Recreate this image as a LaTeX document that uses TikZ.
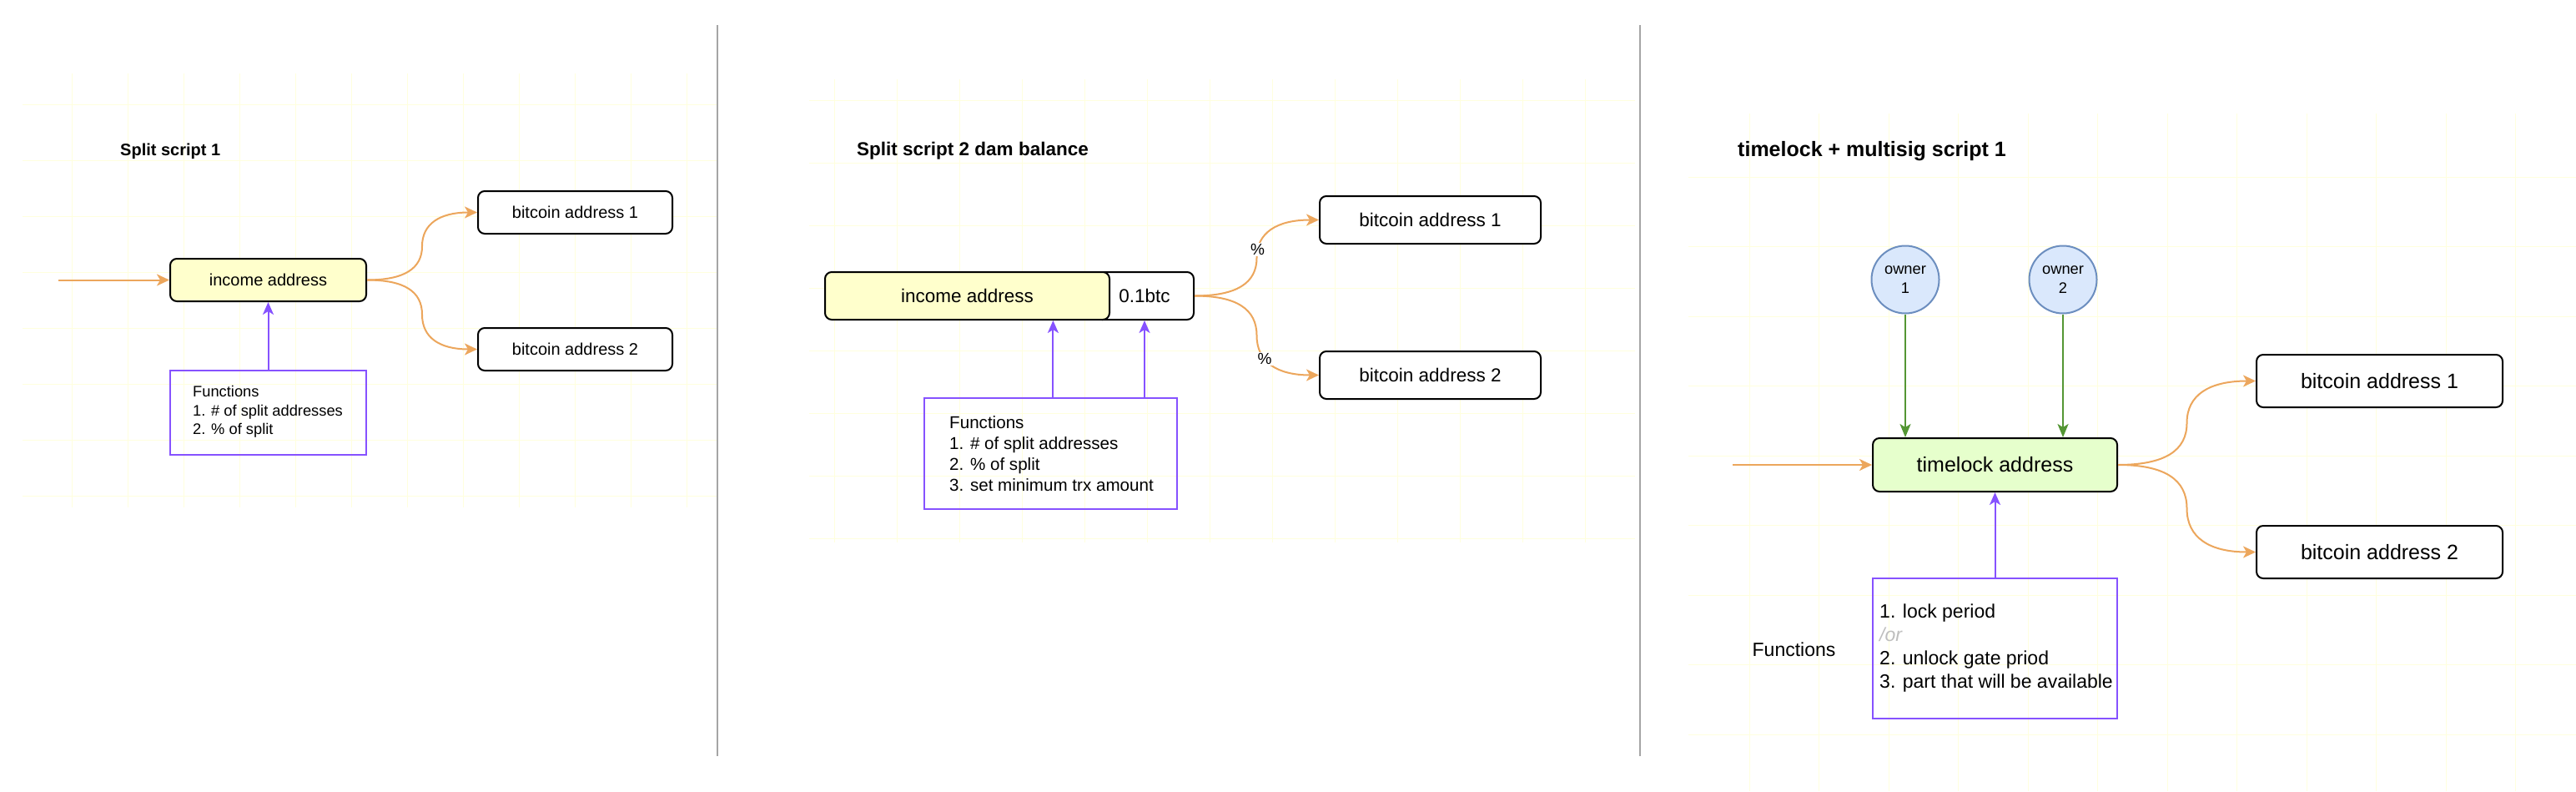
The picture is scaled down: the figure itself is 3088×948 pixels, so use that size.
\documentclass[tikz,border=0pt]{standalone}
\usepackage{fontspec}
\setmainfont{Liberation Sans}
\usetikzlibrary{arrows.meta,calc}
\definecolor{orng}{RGB}{236,166,92}
\definecolor{purp}{RGB}{134,82,255}
\definecolor{grn}{RGB}{84,150,52}
\definecolor{yel}{HTML}{FFFFCC}
\definecolor{lgrn}{HTML}{E6FFCC}
\definecolor{blfill}{HTML}{DAE8FC}
\definecolor{bldraw}{HTML}{6C8EBF}
\definecolor{gridc}{RGB}{255,255,222}
\definecolor{divc}{RGB}{165,165,165}
\definecolor{orc}{RGB}{190,190,190}
\newcommand{\fsz}[2]{\fontsize{#1}{#2}\selectfont}
\tikzset{
  abox/.style={draw=black, line width=2pt, rounded corners=8pt, inner sep=0pt, align=center},
  fbox/.style={draw=purp, line width=2pt, inner sep=0pt},
  oarr/.style={draw=orng, line width=2pt, -{Stealth[length=15pt,width=14pt,inset=4pt]}},
  parr/.style={draw=purp, line width=2pt, -{Stealth[length=15pt,width=13pt,inset=4pt]}},
  garr/.style={draw=grn, line width=2pt, -{Stealth[length=16pt,width=13pt,inset=4pt]}},
  ttl/.style={anchor=west, inner sep=0pt},
  ftxt/.style={anchor=west, inner sep=0pt, align=left},
  owner/.style={circle, draw=bldraw, fill=blfill, line width=2pt, minimum size=81pt, inner sep=0pt, align=center, font=\fsz{18.3}{23}},
  pct/.style={fill=white, inner sep=1.5pt, font=\fsz{19}{22}},
  gridline/.style={draw=gridc, line width=1pt},
  divline/.style={draw=divc, line width=2pt}
}
\begin{document}
\begin{tikzpicture}[x=1pt,y=-1pt]
\fill[white] (0,0) rectangle (3088,948);
\useasboundingbox (0,0) rectangle (3088,948);

% faint background grids
\foreach \i in {0,...,11} \draw[gridline] ({86.7+67*\i},88) -- ({86.7+67*\i},608);
\foreach \j in {0,...,7} \draw[gridline] (27,{125.8+67*\j}) -- (860,{125.8+67*\j});
\foreach \i in {0,...,12} \draw[gridline] ({1000+75*\i},95) -- ({1000+75*\i},650);
\foreach \j in {0,...,7} \draw[gridline] (970,{120+75*\j}) -- (1960,{120+75*\j});
\foreach \i in {0,...,11} \draw[gridline] ({2097+83.5*\i},136) -- ({2097+83.5*\i},948);
\foreach \j in {0,...,8} \draw[gridline] (2024,{212+83.5*\j}) -- (3088,{212+83.5*\j});

% dividers
\draw[divline] (860,30) -- (860,906);
\draw[divline] (1966,30) -- (1966,906);

% ---------- Panel 1 ----------
\node[ttl, font=\fsz{20}{24}\bfseries] (t1) at (144,181) {Split script 1};
\node[abox, fill=yel, minimum width=235pt, minimum height=51pt, font=\fsz{20}{24}] (inc1) at (321.5,335.5) {income address};
\node[abox, fill=white, minimum width=233pt, minimum height=51pt, font=\fsz{20}{24}] (b11) at (689.5,254.5) {bitcoin address 1};
\node[abox, fill=white, minimum width=233pt, minimum height=51pt, font=\fsz{20}{24}] (b12) at (689.5,418.5) {bitcoin address 2};
\node[fbox, minimum width=235pt, minimum height=101pt] (fn1) at (321.5,494.5) {};
\node[ftxt, font=\fsz{18.3}{22.4}] (fn1t) at (231,493.5) {Functions\\1. \# of split addresses\\2. \% of split};
\coordinate (in1) at (70,335.5);
\draw[oarr] (in1) -- (inc1.west);
\coordinate (m11) at ($(inc1.east)!0.5!(b11.west)$);
\coordinate (m12) at ($(inc1.east)!0.5!(b12.west)$);
\draw[oarr] (inc1.east) .. controls +(44.7,0) and +(0,26.8) .. (m11) .. controls +(0,-26.8) and +(-44.7,0) .. (b11.west);
\draw[oarr] (inc1.east) .. controls +(44.7,0) and +(0,-27.8) .. (m12) .. controls +(0,27.8) and +(-44.7,0) .. (b12.west);
\draw[parr] (fn1.north) -- (inc1.south);

% ---------- Panel 2 ----------
\node[ttl, font=\fsz{22.5}{27}\bfseries] (t2) at (1027,181) {Split script 2 dam balance};
\node[abox, fill=white, minimum width=118pt, minimum height=57pt, font=\fsz{22.5}{27}] (btc2) at (1372,354.5) {0.1btc};
\node[abox, fill=yel, minimum width=341pt, minimum height=57pt, font=\fsz{22.5}{27}] (inc2) at (1159.5,354.5) {income address};
\node[abox, fill=white, minimum width=265pt, minimum height=57pt, font=\fsz{22.5}{27}] (b21) at (1714.5,263.5) {bitcoin address 1};
\node[abox, fill=white, minimum width=265pt, minimum height=57pt, font=\fsz{22.5}{27}] (b22) at (1714.5,449.5) {bitcoin address 2};
\node[fbox, minimum width=303pt, minimum height=133pt] (fn2) at (1259.5,543.5) {};
\node[ftxt, font=\fsz{20.6}{25}] (fn2t) at (1138,543.5) {Functions\\1. \# of split addresses\\2. \% of split\\3. set minimum trx amount};
\coordinate (p2a) at ($(inc2.south west)!0.8!(inc2.south east)$);
\draw[parr] (fn2.north -| p2a) -- (p2a);
\draw[parr] (fn2.north -| btc2.south) -- (btc2.south);
\coordinate (m21) at ($(btc2.east)!0.5!(b21.west)$);
\coordinate (m22) at ($(btc2.east)!0.5!(b22.west)$);
\draw[oarr] (btc2.east) .. controls +(50.3,0) and +(0,30.3) .. (m21) .. controls +(0,-30.3) and +(-50.3,0) .. (b21.west) node[pct, pos=0.12] (pc1) {\%};
\draw[oarr] (btc2.east) .. controls +(50.3,0) and +(0,-31.7) .. (m22) .. controls +(0,31.7) and +(-50.3,0) .. (b22.west) node[pct, pos=0.36] (pc2) {\%};

% ---------- Panel 3 ----------
\node[ttl, font=\fsz{25}{30}\bfseries] (t3) at (2083,181) {timelock + multisig script 1};
\node[owner] (own1) at (2284,335) {owner\\1};
\node[owner] (own2) at (2473,335) {owner\\2};
\node[abox, fill=lgrn, minimum width=293pt, minimum height=64pt, font=\fsz{25}{30}] (tl) at (2391.5,557) {timelock address};
\node[abox, fill=white, minimum width=295pt, minimum height=63pt, font=\fsz{25}{30}] (b31) at (2852.5,456.5) {bitcoin address 1};
\node[abox, fill=white, minimum width=295pt, minimum height=63pt, font=\fsz{25}{30}] (b32) at (2852.5,661.5) {bitcoin address 2};
\node[fbox, minimum width=293pt, minimum height=168pt] (fn3) at (2391.5,777) {};
\node[ftxt, font=\fsz{23}{27.8}] (fn3t) at (2253,776.5) {1. lock period\\{\color{orc}\itshape /or}\\2. unlock gate priod\\3. part that will be available};
\node[inner sep=0pt, font=\fsz{23}{27.8}] (fl3) at (2150.5,778) {Functions};
\coordinate (in3) at (2077,557);
\draw[oarr] (in3) -- (tl.west);
\draw[garr] (own1.south) -- (own1.south |- tl.north);
\draw[garr] (own2.south) -- (own2.south |- tl.north);
\coordinate (m31) at ($(tl.east)!0.5!(b31.west)$);
\coordinate (m32) at ($(tl.east)!0.5!(b32.west)$);
\draw[oarr] (tl.east) .. controls +(55.7,0) and +(0,33.5) .. (m31) .. controls +(0,-33.5) and +(-55.7,0) .. (b31.west);
\draw[oarr] (tl.east) .. controls +(55.7,0) and +(0,-34.8) .. (m32) .. controls +(0,34.8) and +(-55.7,0) .. (b32.west);
\draw[parr] (fn3.north) -- (tl.south);
\end{tikzpicture}
\end{document}
